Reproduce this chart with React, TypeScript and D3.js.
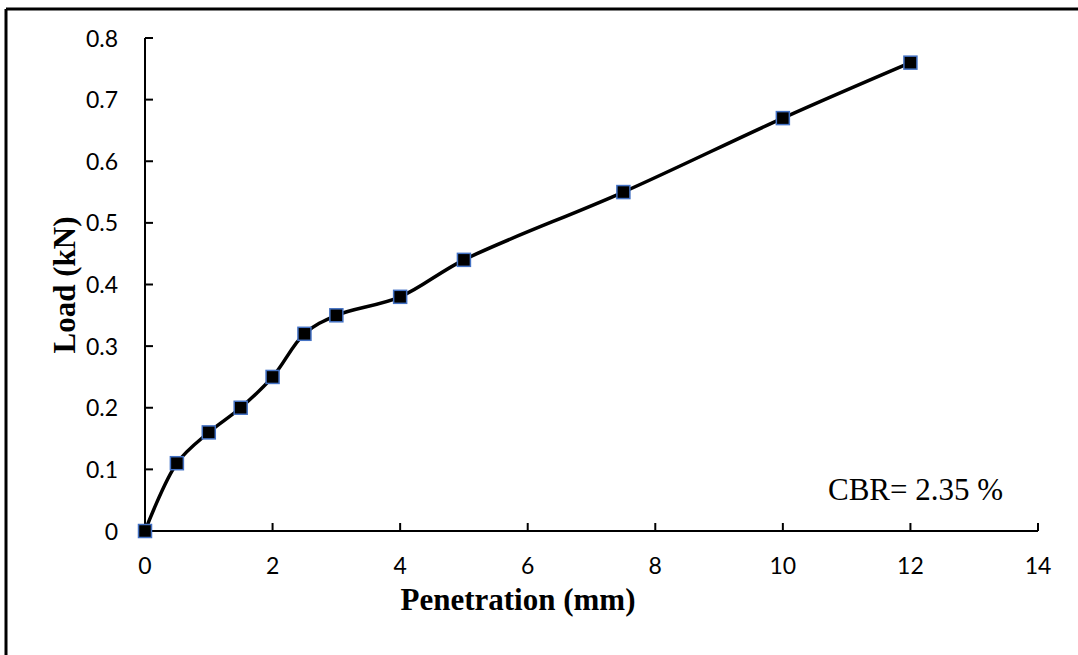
import React from "react";
import * as d3 from "d3";

const penetration = [0, 0.5, 1, 1.5, 2, 2.5, 3, 4, 5, 7.5, 10, 12];
const load = [0, 0.11, 0.16, 0.2, 0.25, 0.32, 0.35, 0.38, 0.44, 0.55, 0.67, 0.76];
const xTicks = [0, 2, 4, 6, 8, 10, 12, 14];
const yTicks = [0, 0.1, 0.2, 0.3, 0.4, 0.5, 0.6, 0.7, 0.8];

const W = 1078;
const H = 655;

export default function App() {
  const x = d3.scaleLinear().domain([0, 14]).range([145, 1038]);
  const y = d3.scaleLinear().domain([0, 0.8]).range([531, 38]);
  const pts: [number, number][] = penetration.map((p, i) => [x(p), y(load[i])]);
  const line = d3.line().curve(d3.curveCatmullRom.alpha(0.5))(pts) || "";
  const tickFont = "Lato, 'Open Sans', sans-serif";
  const serif = "'Liberation Serif', 'Times New Roman', serif";

  return (
    <svg width={W} height={H} style={{ position: "absolute", left: 0, top: 0, background: "#fff" }}>
      {/* frame: top and left edges only */}
      <line x1={6} y1={9} x2={W} y2={9} stroke="#000" strokeWidth={3} />
      <line x1={6} y1={9} x2={6} y2={H} stroke="#000" strokeWidth={3} />

      {/* axes */}
      <line x1={x(0)} y1={y(0)} x2={x(14)} y2={y(0)} stroke="#000" strokeWidth={2} />
      <line x1={x(0)} y1={y(0)} x2={x(0)} y2={y(0.8)} stroke="#000" strokeWidth={2} />
      {xTicks.map((t) => (
        <g key={"x" + t}>
          <line x1={x(t)} y1={y(0)} x2={x(t)} y2={y(0) - 8} stroke="#000" strokeWidth={2} />
          <text x={x(t)} y={574} textAnchor="middle" fontFamily={tickFont} fontSize={23}>
            {t}
          </text>
        </g>
      ))}
      {yTicks.map((t) => (
        <g key={"y" + t}>
          <line x1={x(0)} y1={y(t)} x2={x(0) + 8} y2={y(t)} stroke="#000" strokeWidth={2} />
          <text x={118} y={y(t) + 8.5} textAnchor="end" fontFamily={tickFont} fontSize={23}>
            {t === 0 ? "0" : t.toFixed(1)}
          </text>
        </g>
      ))}

      {/* titles */}
      <text x={518} y={610} textAnchor="middle" fontFamily={serif} fontWeight="bold" fontSize={31}>
        Penetration (mm)
      </text>
      <text
        transform={`translate(75,285) rotate(-90)`}
        textAnchor="middle"
        fontFamily={serif}
        fontWeight="bold"
        fontSize={31}
      >
        Load (kN)
      </text>
      <text x={828} y={500} fontFamily={serif} fontSize={31}>
        CBR= 2.35 %
      </text>

      {/* series */}
      <path d={line} fill="none" stroke="#000" strokeWidth={3.5} />
      {pts.map(([px, py], i) => (
        <rect
          key={i}
          x={px - 6.5}
          y={py - 6.5}
          width={13}
          height={13}
          fill="#000"
          stroke="#4472C4"
          strokeWidth={1.5}
        />
      ))}
    </svg>
  );
}
